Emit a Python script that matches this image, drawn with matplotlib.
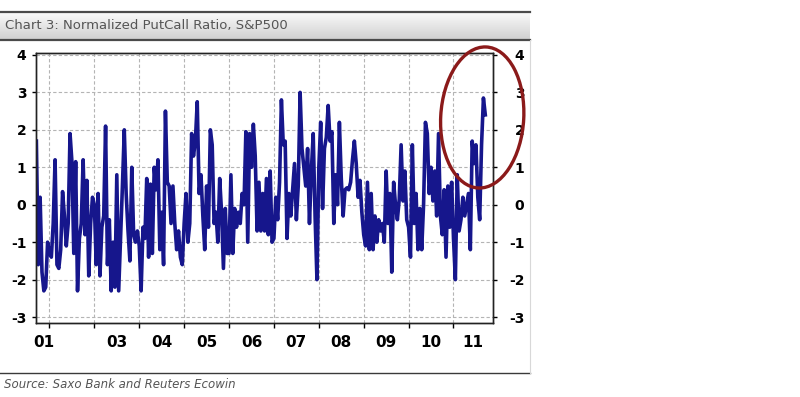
import numpy as np
import matplotlib
matplotlib.use('Agg')
import matplotlib.pyplot as plt
from matplotlib.lines import Line2D
from matplotlib.patches import Ellipse
from matplotlib.colors import LinearSegmentedColormap

plt.rcParams['axes.unicode_minus'] = False

# Normalized put/call ratio, S&P500 (semi-monthly steps)
pcr_2001 = [1.7, -1.6, 0.2, -1.8, -2.3, -2.2, -1.0]   # starts mid Sep 2001
pcr_2002 = [-1.3, -1.4, -0.5, 1.2, -1.6, -1.7, -1.2, 0.35, -0.3, -1.1, -0.5, 1.9,
            1.15, -1.3, 1.15, -2.3, -0.9, -0.5, 1.2, -0.8, 0.65, -1.9, -0.5, 0.2]
pcr_2003 = [0.0, -1.6, 0.3, -1.9, -0.6, -0.3, 2.1, -1.6, -0.4, -2.3, -1.0, -2.2,
            0.8, -2.3, -0.9, 0.5, 2.0, 0.3, -0.7, -1.5, 1.0, -0.8, -1.0, -0.7]
pcr_2004 = [-1.1, -2.3, -0.6, -0.9, 0.7, -1.4, 0.55, -1.3, 1.0, 0.4, 1.2, -1.2,
            -0.2, -1.6, 2.5, 0.6, 0.5, -0.5, 0.5, -0.5, -1.2, -0.7, -1.4, -1.6]
pcr_2005 = [-0.5, 0.3, -1.0, -0.5, 1.9, 1.3, 1.7, 2.75, 0.3, 0.8, -0.3, -1.2,
            0.5, -0.6, 2.0, 1.6, -0.5, -0.2, -1.0, 0.7, -0.2, -1.7, -0.1, -1.3]
pcr_2006 = [-1.3, 0.8, -1.3, -0.1, -0.6, -0.2, -0.5, 0.3, 0.0, 1.95, -1.0, 1.9,
            1.0, 2.15, 1.3, -0.7, 0.6, -0.7, 0.3, -0.7, 0.7, -0.8, 0.9, -1.0]
pcr_2007 = [-0.9, 0.2, -0.4, 0.6, 2.8, 1.6, 1.7, -0.9, 0.3, -0.3, 0.4, 1.1,
            -0.4, 0.5, 3.0, 1.5, 1.0, 0.5, 1.5, -0.5, 0.9, 1.9, -0.3, -2.0]
pcr_2008 = [1.0, 2.2, -0.1, 1.5, 1.8, 2.65, 1.7, 1.95, -0.5, 0.8, 0.0, 2.2,
            0.7, -0.3, 0.4, 0.45, 0.4, 0.6, 1.2, 1.7, 1.1, 0.2, 0.65, -0.2]
pcr_2009 = [-0.8, -1.1, 0.6, -1.2, 0.3, -1.2, -0.3, -1.0, -0.4, -0.7, -0.5, -1.0,
            0.9, -0.5, 0.3, -1.8, 0.6, 0.0, -0.4, 0.15, 1.6, 0.1, 0.9, -0.4]
pcr_2010 = [-0.6, -1.4, 1.6, -0.5, 0.3, -1.2, -0.1, -1.2, 0.0, 2.2, 1.9, 0.3,
            1.0, 0.1, 0.9, -0.3, 1.9, -0.3, -0.8, 0.4, -1.4, 0.5, -0.6, 0.6]
pcr_2011 = [-0.9, -2.0, 0.8, -0.7, -0.4, 0.2, -0.3, 0.0, 0.3, -1.2, 1.7, 1.1,
            1.6, 0.2, -0.4, 1.6, 2.85, 2.4]

by_year = {2001: pcr_2001, 2002: pcr_2002, 2003: pcr_2003, 2004: pcr_2004,
           2005: pcr_2005, 2006: pcr_2006, 2007: pcr_2007, 2008: pcr_2008,
           2009: pcr_2009, 2010: pcr_2010, 2011: pcr_2011}

year_labels = ['01', '03', '04', '05', '06', '07', '08', '09', '10', '11']
label_pos = [2001.87, 2003.5, 2004.5, 2005.5, 2006.5, 2007.5, 2008.5, 2009.5, 2010.5, 2011.42]
y_ticks = [-3, -2, -1, 0, 1, 2, 3, 4]

# build the time axis: 24 steps per year, 2001 only from mid Sep
dates, values = [], []
for yr, vals in by_year.items():
    start = 24 - len(vals) if yr == 2001 else 0
    for k, v in enumerate(vals):
        dates.append(yr + (start + k) / 24)
        values.append(v)

W, H = 800, 397
fig = plt.figure(figsize=(W / 100, H / 100), dpi=100)

# title bar
tb = fig.add_axes([0, 1 - 40 / H, 530 / W, 28 / H])
grad = LinearSegmentedColormap.from_list('bar', ['#fafafa', '#d0d0d0'])
tb.imshow(np.linspace(0, 1, 50).reshape(-1, 1), cmap=grad, aspect='auto', extent=[0, 1, 0, 1])
tb.axis('off')
fig.add_artist(Line2D([0, 530 / W], [1 - 11.5 / H] * 2, color='#4a4a4a', lw=1.6, transform=fig.transFigure))
fig.add_artist(Line2D([0, 530 / W], [1 - 39.5 / H] * 2, color='#4a4a4a', lw=1.6, transform=fig.transFigure))
fig.text(5 / W, 1 - 25.5 / H, 'Chart 3: Normalized PutCall Ratio, S&P500',
         ha='left', va='center', color='#555555', fontsize=9.5)

# footer
fig.add_artist(Line2D([0, 530 / W], [1 - 372.7 / H] * 2, color='#3a3a3a', lw=1.0, transform=fig.transFigure))
fig.add_artist(Line2D([529.5 / W] * 2, [1 - 40 / H, 1 - 372.7 / H], color='#d8d8d8', lw=0.8, transform=fig.transFigure))
fig.text(4 / W, 1 - 384 / H, 'Source: Saxo Bank and Reuters Ecowin',
         ha='left', va='center', color='#555555', fontsize=8.5, style='italic')

# main chart
ax = fig.add_axes([36 / W, 1 - 322.7 / H, (493 - 36) / W, (322.7 - 52.7) / H])
ax.plot(dates, values, color='#16168c', lw=2.6)
ax.set_xlim(2001.70, 2011.88)
ax.set_ylim(-3.15, 4.06)

ax.set_xticks(range(2002, 2012))
ax.set_xticklabels([])
ax.set_xticks(label_pos, minor=True)
ax.set_xticklabels(year_labels, minor=True, fontweight='bold', fontsize=11)
ax.tick_params(axis='x', which='major', direction='out', length=3.5, width=1)
ax.tick_params(axis='x', which='minor', length=0, pad=9)

ax.set_yticks(y_ticks)
ax.set_yticklabels([str(t) for t in y_ticks], fontweight='bold', fontsize=10)
ax.tick_params(axis='y', direction='out', length=3, width=1, pad=4)

ax.grid(True, which='major', color='#b4b4b4', linestyle=(0, (3, 2)), lw=0.8)
ax.set_axisbelow(True)
for sp in ax.spines.values():
    sp.set_color('#222222')
    sp.set_linewidth(1.0)

# right hand axis, labels right aligned (pad in points)
ax2 = ax.twinx()
ax2.set_ylim(ax.get_ylim())
ax2.set_yticks(y_ticks)
ax2.set_yticklabels([str(t) for t in y_ticks], fontweight='bold', fontsize=10, ha='right')
ax2.tick_params(axis='y', direction='out', length=3, width=1, pad=19.5)
for sp in ax2.spines.values():
    sp.set_color('#222222')
    sp.set_linewidth(1.0)

# red circle around the latest spike
ax2.add_patch(Ellipse((2011.64, 2.33), width=1.85, height=3.77, angle=-2.5,
                      fill=False, edgecolor='#8b1a1a', lw=2.4, clip_on=False, zorder=5))

fig.savefig('out.png', dpi=100)
